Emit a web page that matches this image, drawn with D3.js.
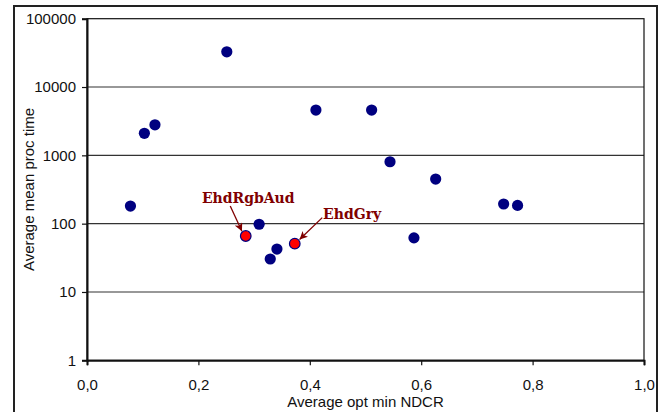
<!DOCTYPE html>
<html>
<head>
<meta charset="utf-8">
<script src="https://cdn.jsdelivr.net/npm/d3@7"></script>
<style>
  body { margin: 0; background: white; }
  svg { display: block; }
</style>
</head>
<body>
<svg id="chart"></svg>
<script>
// Data
const optMinNdcr = [0.078, 0.103, 0.122, 0.251, 0.309, 0.285, 0.341, 0.329, 0.373, 0.411, 0.511, 0.544, 0.587, 0.626, 0.748, 0.773];
const procTime   = [181, 2100, 2800, 32800, 98, 66, 42.5, 30.4, 51, 4600, 4600, 806, 62, 450, 194, 185];
const runNames   = [null, null, null, null, null, "EhdRgbAud", null, null, "EhdGry", null, null, null, null, null, null, null];

const xTicks = [0, 0.2, 0.4, 0.6, 0.8, 1.0];
const yTicks = [1, 10, 100, 1000, 10000, 100000];

const xTitle = "Average opt min NDCR";
const yTitle = "Average mean proc time";

// Layout
const W = 661, H = 412;
const margin = { top: 18.7, left: 87, right: W - 644, bottom: H - 360.3 };
const width = W - margin.left - margin.right;
const height = H - margin.top - margin.bottom;

// label/arrow placement relative to the point, in pixels
const annoLayout = {
  EhdRgbAud: { tx: 2.5, ty: -33, anchor: "middle", from: [-15.5, -30], to: [-3.8, -4.8] },
  EhdGry:    { tx: 28.3, ty: -24.7, anchor: "start", from: [27.5, -26], to: [4.8, -4.2] }
};

const svg = d3.select("#chart")
    .attr("width", W)
    .attr("height", H);

// outer frame
svg.append("rect")
    .attr("x", 14)
    .attr("y", 6)
    .attr("width", 643)
    .attr("height", 420)
    .attr("fill", "white")
    .attr("stroke", "#222")
    .attr("stroke-width", 2);

const chart = svg.append("g")
    .attr("transform", `translate(${margin.left},${margin.top})`);

const x = d3.scaleLinear().domain([0, 1]).range([0, width]);
const y = d3.scaleLog().domain([1, 100000]).range([height, 0]);

// grid lines
chart.selectAll("line.grid")
    .data(yTicks.slice(1, -1))
  .join("line")
    .attr("class", "grid")
    .attr("x1", 0)
    .attr("x2", width)
    .attr("y1", d => y(d))
    .attr("y2", d => y(d))
    .attr("stroke", "#333")
    .attr("stroke-width", 1.2);

// plot border
chart.append("rect")
    .attr("x", 0)
    .attr("y", 0)
    .attr("width", width)
    .attr("height", height)
    .attr("fill", "none")
    .attr("stroke", "#111")
    .attr("stroke-width", 1.2);

const fmtX = d => d.toFixed(1).replace(".", ",");

const xAxis = chart.append("g")
    .attr("transform", `translate(0,${height})`)
    .call(d3.axisBottom(x).tickValues(xTicks).tickFormat(fmtX).tickSize(5).tickPadding(13.8));

const yAxis = chart.append("g")
    .call(d3.axisLeft(y).tickValues(yTicks).tickFormat(d3.format("d")).tickSize(5).tickPadding(6));

[xAxis, yAxis].forEach(a => {
  a.select(".domain").attr("stroke", "#111").attr("stroke-width", 2);
  a.selectAll(".tick line").attr("stroke", "#111").attr("stroke-width", 1.2);
  a.selectAll(".tick text")
      .attr("fill", "#111")
      .attr("font-family", "Liberation Sans, Arial, sans-serif")
      .attr("font-size", 15);
});

// axis titles
svg.append("text")
    .attr("x", margin.left + width / 2)
    .attr("y", 406.5)
    .attr("text-anchor", "middle")
    .attr("font-family", "Liberation Sans, Arial, sans-serif")
    .attr("font-size", 15)
    .attr("fill", "#111")
    .text(xTitle);

svg.append("text")
    .attr("transform", `translate(33.5,189.5) rotate(-90)`)
    .attr("text-anchor", "middle")
    .attr("font-family", "Liberation Sans, Arial, sans-serif")
    .attr("font-size", 15)
    .attr("fill", "#111")
    .text(yTitle);

// points
const points = optMinNdcr.map((d, i) => ({ x: d, y: procTime[i], name: runNames[i] }));

chart.selectAll("circle.pt")
    .data(points)
  .join("circle")
    .attr("class", "pt")
    .attr("cx", d => x(d.x))
    .attr("cy", d => y(d.y))
    .attr("r", d => d.name ? 5.3 : 5.6)
    .attr("fill", d => d.name ? "#ff0000" : "#000080")
    .attr("stroke", d => d.name ? "#000080" : "none")
    .attr("stroke-width", 1.2);

// annotations
const annoColour = "#800000";
svg.append("defs").append("marker")
    .attr("id", "arrow")
    .attr("viewBox", "0 0 10 10")
    .attr("refX", 10)
    .attr("refY", 5)
    .attr("markerUnits", "userSpaceOnUse")
    .attr("markerWidth", 9)
    .attr("markerHeight", 8)
    .attr("orient", "auto")
  .append("path")
    .attr("d", "M0,0 L10,5 L0,10 L2.5,5 Z")
    .attr("fill", annoColour);

const named = points.filter(d => d.name);

chart.selectAll("line.anno")
    .data(named)
  .join("line")
    .attr("class", "anno")
    .attr("x1", d => x(d.x) + annoLayout[d.name].from[0])
    .attr("y1", d => y(d.y) + annoLayout[d.name].from[1])
    .attr("x2", d => x(d.x) + annoLayout[d.name].to[0])
    .attr("y2", d => y(d.y) + annoLayout[d.name].to[1])
    .attr("stroke", annoColour)
    .attr("stroke-width", 1.3)
    .attr("marker-end", "url(#arrow)");

chart.selectAll("text.anno")
    .data(named)
  .join("text")
    .attr("class", "anno")
    .attr("x", d => x(d.x) + annoLayout[d.name].tx)
    .attr("y", d => y(d.y) + annoLayout[d.name].ty)
    .attr("text-anchor", d => annoLayout[d.name].anchor)
    .attr("font-family", "DejaVu Serif, serif")
    .attr("font-weight", "bold")
    .attr("font-size", 14)
    .attr("fill", annoColour)
    .text(d => d.name);
</script>
</body>
</html>
